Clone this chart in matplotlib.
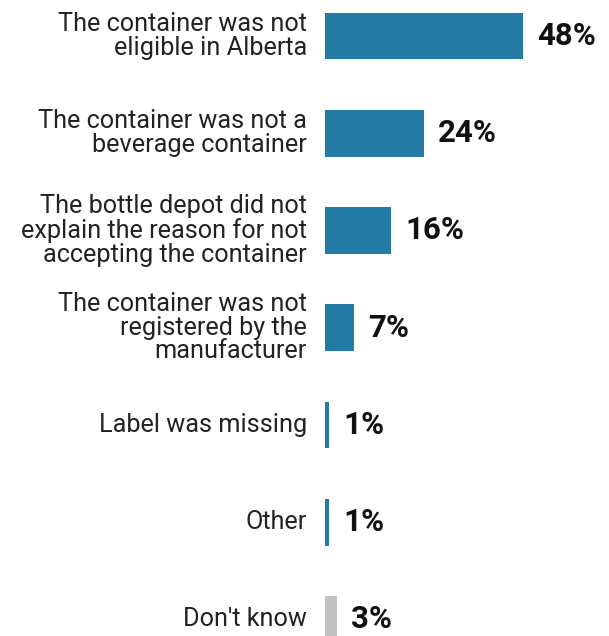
import matplotlib as mpl
mpl.use('Agg')
import matplotlib.pyplot as plt
from matplotlib.transforms import offset_copy

labels = [
    'The container was not\neligible in Alberta',
    'The container was not a\nbeverage container',
    'The bottle depot did not\nexplain the reason for not\naccepting the container',
    'The container was not\nregistered by the\nmanufacturer',
    'Label was missing',
    'Other',
    "Don't know",
]
values = [48, 24, 16, 7, 1, 1, 3]
colors = ['#247ca6'] * 6 + ['#c2c2c2']

plt.rcParams['font.family'] = ['Roboto', 'DejaVu Sans']

fig = plt.figure(figsize=(6.09, 6.36), dpi=100)
# axes starts where the bars start and runs off the right/bottom edges
ax = fig.add_axes([325 / 609, 0, 1 - 325 / 609, 1])

ypos = list(range(len(values)))
ax.barh(ypos, values, height=0.48, color=colors)
ax.set_xlim(0, 68.8)
ax.set_ylim(6.17, -0.37)

# value labels, a fixed gap after the end of each bar
lbl_tr = offset_copy(ax.transData, fig=fig, x=10, y=0, units='points')
for y, v in zip(ypos, values):
    ax.text(v, y, f'{v}%', transform=lbl_tr, ha='left', va='center',
            fontsize=22.5, fontweight='bold', color='#111111')

# category labels to the left of the axis
cat_tr = offset_copy(ax.get_yaxis_transform(), fig=fig, x=-13, y=0, units='points')
for y, lab in zip(ypos, labels):
    ax.text(0, y, lab, transform=cat_tr, ha='right', va='center',
            fontsize=18.2, color='#222222', linespacing=0.98, multialignment='right')

ax.axis('off')

plt.savefig('out.png', dpi=100)
